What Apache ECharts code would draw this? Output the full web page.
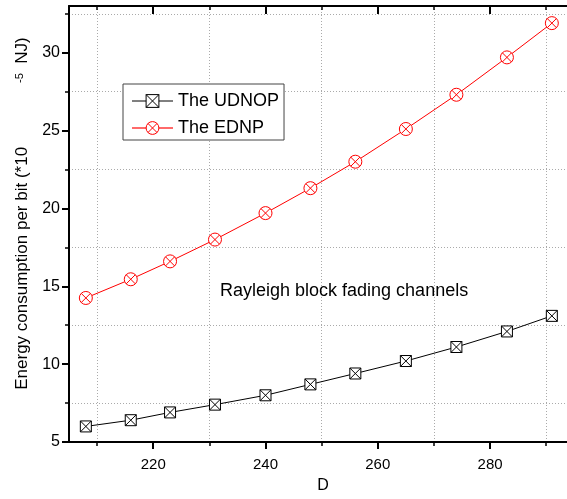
<!DOCTYPE html>
<html>
<head>
<meta charset="utf-8">
<script src="https://cdn.jsdelivr.net/npm/echarts@6/dist/echarts.min.js"></script>
<style>
    html, body { margin: 0; padding: 0; background: #fff; }
    #chart { width: 567px; height: 499px; }
</style>
</head>
<body>
<div id="chart"></div>
<script>
// D values on the x axis
const dValues = [208, 216, 223, 231, 240, 248, 256, 265, 274, 283, 291];
// energy per bit (*10^-5 NJ)
const udnopValues = [6.0, 6.4, 6.9, 7.4, 8.0, 8.7, 9.4, 10.2, 11.1, 12.1, 13.1];
const ednpValues = [14.25, 15.45, 16.6, 18.0, 19.7, 21.3, 23.0, 25.1, 27.3, 29.7, 31.9];

const xMajorTicks = [220, 240, 260, 280];
const xMinorTicks = [210, 230, 250, 270, 290];
const yMajorTicks = [5, 10, 15, 20, 25, 30];
const yMinorTicks = [7.5, 12.5, 17.5, 22.5, 27.5, 32.5];

const FONT = 'Liberation Sans, Arial, sans-serif';

window.onload = function () {
    const chart = echarts.init(document.getElementById('chart'));

    function pairs(xs, ys) {
        return xs.map((x, i) => [x, ys[i]]);
    }

    const xRange = {min: 205, max: 293.7};
    const yRange = {min: 5, max: 33};
    const gridLine = {show: true, lineStyle: {color: '#aaa', width: 1, type: [1, 2]}};

    const option = {
        animation: false,
        backgroundColor: '#fff',
        textStyle: {fontFamily: FONT},
        grid: {left: 69, right: 0, top: 6, bottom: 56},
        title: {
            text: 'Rayleigh block fading channels',
            left: 220,
            top: 282,
            padding: 0,
            textStyle: {fontSize: 18, fontWeight: 'normal', color: '#000', fontFamily: FONT}
        },
        legend: {
            orient: 'vertical',
            left: 123,
            top: 84,
            padding: [8, 5, 3, 8],
            itemWidth: 41,
            itemHeight: 16,
            itemGap: 9,
            backgroundColor: '#fff',
            borderColor: '#444',
            borderWidth: 1,
            borderRadius: 0,
            itemStyle: {borderWidth: 1},
            lineStyle: {width: 1},
            textStyle: {fontSize: 18, color: '#000', fontFamily: FONT},
            data: [
                {name: 'The UDNOP'},
                {name: 'The EDNP', lineStyle: {width: 2, color: '#ff6a6a'}}
            ]
        },
        xAxis: [
            {
                type: 'value', ...xRange, position: 'bottom',
                name: 'D', nameLocation: 'middle', nameGap: 36,
                nameTextStyle: {fontSize: 16, color: '#000', padding: [0, 0, 0, 10]},
                axisLine: {onZero: false, lineStyle: {color: '#000', width: 2}},
                axisTick: {customValues: xMajorTicks, length: 7, lineStyle: {width: 2, color: '#000'}},
                axisLabel: {customValues: xMajorTicks, fontSize: 15, color: '#000', margin: 15},
                splitLine: {show: false}
            },
            {
                type: 'value', ...xRange, position: 'bottom',
                axisLine: {show: false, onZero: false},
                axisTick: {customValues: xMinorTicks, length: 4, lineStyle: {width: 1.5, color: '#000'}},
                axisLabel: {show: false},
                splitLine: gridLine
            },
            {
                type: 'value', ...xRange, position: 'top',
                axisLine: {onZero: false, lineStyle: {color: '#000', width: 2}},
                axisTick: {inside: true, customValues: xMajorTicks, length: 8, lineStyle: {width: 2, color: '#000'}},
                axisLabel: {show: false},
                splitLine: {show: false}
            },
            {
                type: 'value', ...xRange, position: 'top',
                axisLine: {show: false, onZero: false},
                axisTick: {inside: true, customValues: xMinorTicks, length: 4, lineStyle: {width: 1.5, color: '#000'}},
                axisLabel: {show: false},
                splitLine: {show: false}
            }
        ],
        yAxis: [
            {
                type: 'value', ...yRange, position: 'left',
                name: '{sp| }{m|Energy consumption per bit (*10}{g| }{s|-5}{m|  NJ)}',
                nameLocation: 'middle', nameGap: 38,
                nameTextStyle: {
                    color: '#000',
                    rich: {
                        sp: {width: 21, fontSize: 17},
                        m: {fontSize: 17, color: '#000', fontFamily: FONT},
                        g: {width: 64, fontSize: 17},
                        s: {fontSize: 11, color: '#000', fontFamily: FONT, verticalAlign: 'top'}
                    }
                },
                axisLine: {onZero: false, lineStyle: {color: '#000', width: 2}},
                axisTick: {customValues: yMajorTicks, length: 7, lineStyle: {width: 2, color: '#000'}},
                axisLabel: {customValues: yMajorTicks, fontSize: 16, color: '#000', margin: 9},
                splitLine: {show: false}
            },
            {
                type: 'value', ...yRange, position: 'left',
                axisLine: {show: false, onZero: false},
                axisTick: {customValues: yMinorTicks, length: 4, lineStyle: {width: 1.5, color: '#000'}},
                axisLabel: {show: false},
                splitLine: gridLine
            }
        ],
        series: [
            {
                name: 'The UDNOP',
                type: 'line',
                data: pairs(dValues, udnopValues),
                symbol: 'path://M0,0H10V10H0Z M0,0L10,10 M10,0L0,10',
                symbolSize: 11,
                lineStyle: {color: '#000', width: 1},
                itemStyle: {color: '#fff', borderColor: '#000', borderWidth: 1}
            },
            {
                name: 'The EDNP',
                type: 'line',
                data: pairs(dValues, ednpValues),
                symbol: 'path://M0,5A5,5,0,1,1,10,5A5,5,0,1,1,0,5Z M1.46,1.46L8.54,8.54 M8.54,1.46L1.46,8.54',
                symbolSize: 13,
                lineStyle: {color: '#ff0000', width: 1},
                itemStyle: {color: '#fff', borderColor: '#ff0000', borderWidth: 1}
            }
        ]
    };

    option && chart.setOption(option);
};
</script>
</body>
</html>
